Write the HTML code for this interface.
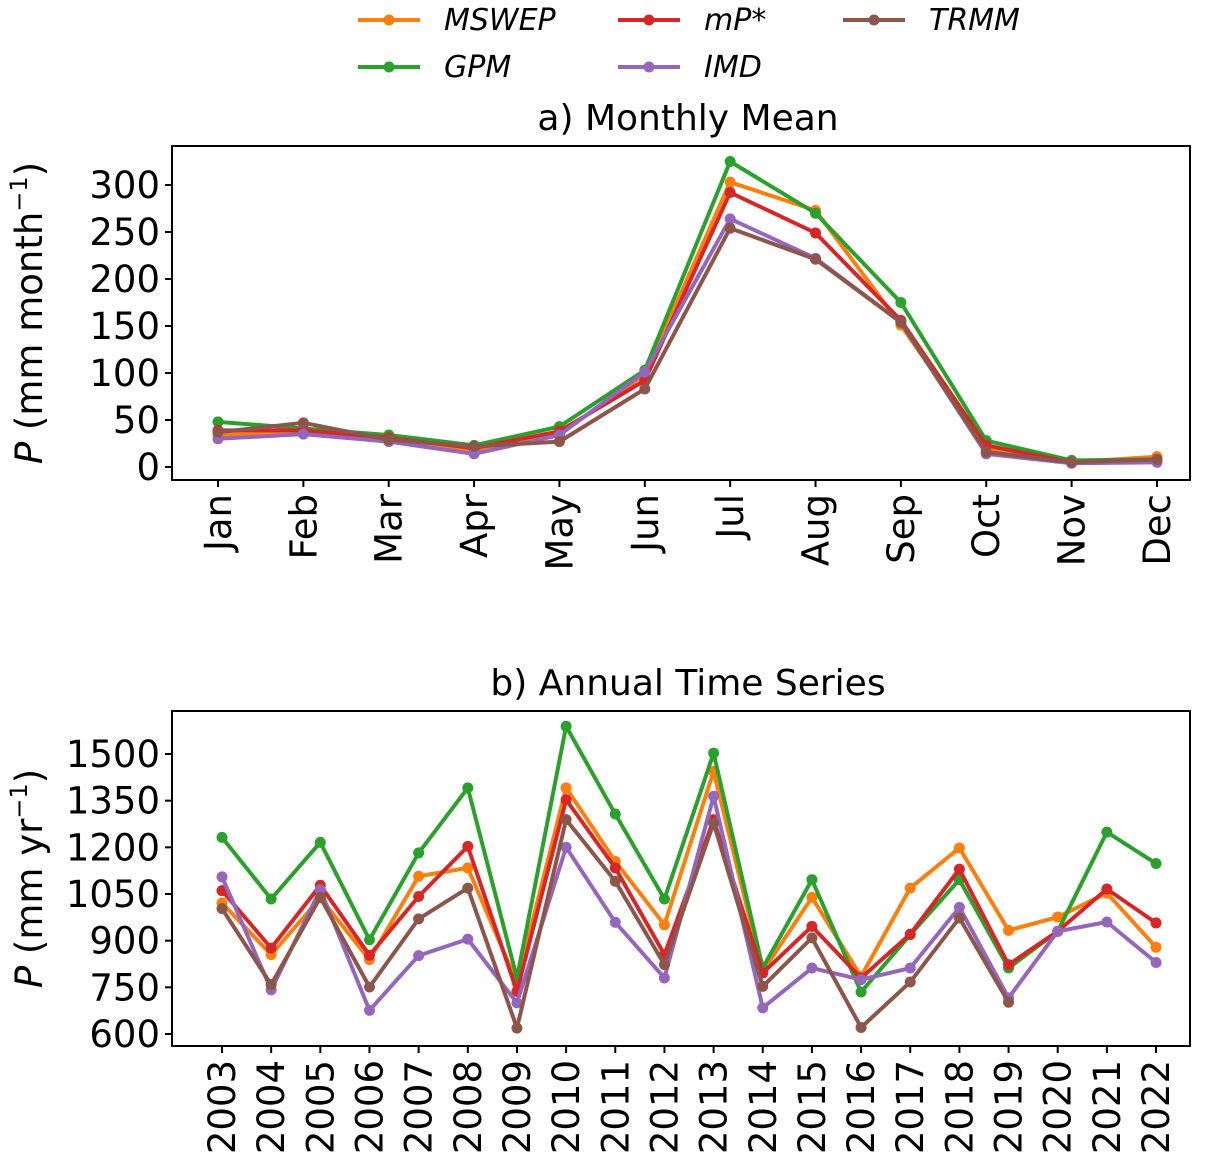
<!DOCTYPE html>
<html><head><meta charset="utf-8"><style>
body{margin:0;background:#fff}
svg{display:block;font-family:"DejaVu Sans","Liberation Sans",sans-serif}
</style></head><body>
<svg id="c" width="1208" height="1168" viewBox="0 0 1208 1168"></svg>
<script>
const months=["Jan","Feb","Mar","Apr","May","Jun","Jul","Aug","Sep","Oct","Nov","Dec"];
const years=[2003,2004,2005,2006,2007,2008,2009,2010,2011,2012,2013,2014,2015,2016,2017,2018,2019,2020,2021,2022];
const seriesNames=["MSWEP","GPM","mP*","IMD","TRMM"];
const seriesColors=["#ff7f0e","#2ca02c","#d62728","#9467bd","#8c564b"];
const mMSWEP=[34,37,28,18,35,98,303,273,151,20,5,11];
const mGPM=[48,41,34,23,43,103,325,270,175,28,7,8];
const mMP=[39,39,31,20,38,92,292,249,156,23,5,8];
const mIMD=[30,35,27,14,34,101,264,222,154,14,4,5];
const mTRMM=[37,47,29,22,27,83,254,221,154,16,5,8];
const aMSWEP=[1021,855,1037,839,1107,1134,765,1391,1155,951,1444,801,1039,785,1069,1198,933,976,1053,879];
const aGPM=[1232,1034,1216,903,1182,1391,780,1589,1307,1034,1503,812,1096,735,919,1096,812,930,1249,1148];
const aMP=[1061,876,1078,853,1042,1203,737,1353,1134,855,1289,796,946,780,921,1130,823,930,1066,957];
const aIMD=[1105,742,1064,676,852,905,700,1200,959,780,1364,684,812,775,812,1007,716,930,960,830];
const aTRMM=[1003,759,1039,751,970,1069,619,1289,1091,823,1278,753,909,621,767,973,702];
const aTicks=[0,50,100,150,200,250,300];
const bTicks=[600,750,900,1050,1200,1350,1500];

const svg=document.getElementById('c');
const NS="http://www.w3.org/2000/svg";
function mk(tag,attrs,parent,text){const e=document.createElementNS(NS,tag);for(const k in attrs)e.setAttribute(k,attrs[k]);if(text!==undefined)e.textContent=text;(parent||svg).appendChild(e);return e;}

function panel(cfg){
  const g=mk('g',{});
  
  
  const x=i=>cfg.x0+i*cfg.dx;
  const y=v=>cfg.yA+(v-cfg.vA)*(cfg.yB-cfg.yA)/(cfg.vB-cfg.vA);
  const t=mk('text',{x:688,y:cfg.titleY,'text-anchor':'middle','font-size':36,fill:'#000'},g,cfg.title);
  
  
  cfg.ticks.forEach(v=>{
    mk('line',{x1:cfg.L-7,x2:cfg.L,y1:y(v),y2:y(v),stroke:'#000','stroke-width':2},g);
    const tl=mk('text',{x:cfg.L-12,y:y(v)+13,'text-anchor':'end','font-size':37},g,String(v));
    
    
  });
  cfg.cats.forEach((c,i)=>{
    mk('line',{x1:x(i),x2:x(i),y1:cfg.B,y2:cfg.B+7,stroke:'#000','stroke-width':2},g);
    const tl=mk('text',{x:0,y:0,'text-anchor':'end','font-size':37,transform:`translate(${x(i)+13},${cfg.B+14}) rotate(-90)`},g,String(c));
    
    
  });
  const yl=mk('text',{x:0,y:0,'text-anchor':'middle','font-size':37,transform:`translate(42,${(cfg.T+cfg.B)/2}) rotate(-90)`},g);
  
  
  mk('tspan',{'font-style':'italic'},yl,'P');
  mk('tspan',{},yl,cfg.unit);
  mk('tspan',{'font-size':24,dy:-15},yl,'−1');
  mk('tspan',{dy:15},yl,')');
  cfg.data.forEach((d,s)=>{
    const sg=mk('g',{},g);
    
    
    mk('polyline',{points:d.map((v,i)=>x(i)+','+y(v)).join(' '),fill:'none',stroke:seriesColors[s],'stroke-width':4,'stroke-linejoin':'round'},sg);
    d.forEach((v,i)=>{
      const c=mk('circle',{cx:x(i),cy:y(v),r:5.5,fill:seriesColors[s]},sg);
      
      
    });
  });
  mk('rect',{x:cfg.L,y:cfg.T,width:cfg.R-cfg.L,height:cfg.B-cfg.T,fill:'none',stroke:'#000','stroke-width':2},g);
}
panel({name:'monthly-panel',title:'a) Monthly Mean',titleY:130,L:172,R:1190,T:146,B:480,x0:218,dx:85.36,yA:467,vA:0,yB:185,vB:300,ticks:aTicks,cats:months,unit:' (mm month',data:[mMSWEP,mGPM,mMP,mIMD,mTRMM]});
panel({name:'annual-panel',title:'b) Annual Time Series',titleY:695,L:172,R:1190,T:711,B:1046,x0:222,dx:49.16,yA:1034,vA:600,yB:754,vB:1500,ticks:bTicks,cats:years,unit:' (mm yr',data:[aMSWEP,aGPM,aMP,aIMD,aTRMM]});

const legPos=[[358,20],[358,67],[618,20],[618,67],[843,20]];
const lg=mk('g',{});


seriesNames.forEach((n,s)=>{
  const [lx,ly]=legPos[s];
  const e=mk('g',{},lg);
  
  
  mk('line',{x1:lx,x2:lx+62,y1:ly,y2:ly,stroke:seriesColors[s],'stroke-width':4},e);
  mk('circle',{cx:lx+31,cy:ly,r:5.5,fill:seriesColors[s]},e);
  mk('text',{x:lx+86,y:ly+10,'font-size':30,'font-style':'italic'},e,n);
});
</script>
</body></html>
